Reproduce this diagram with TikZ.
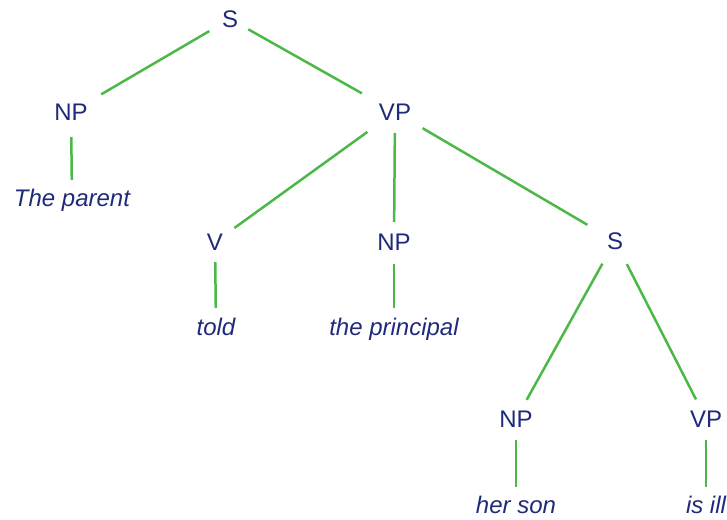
\documentclass[tikz,border=0pt]{standalone}
\usepackage{fontspec}
\setmainfont{Liberation Sans}
\definecolor{txt}{HTML}{1F2A7A}
\definecolor{edge}{HTML}{4CB848}
\begin{document}
\begin{tikzpicture}[x=1pt,y=-1pt,
  cat/.style={inner sep=0pt,text=txt,font=\fontsize{24}{28}\selectfont,text height=17pt,text depth=0pt},
  word/.style={inner sep=0pt,text=txt,font=\fontsize{24}{28}\selectfont\itshape,text height=17pt,text depth=0pt},
  br/.style={draw=edge,line width=2.5pt}]
\useasboundingbox (0,0) rectangle (727,519);
\node[cat] (s) at (230,19) {S};
\node[cat] (np1) at (71,112) {NP};
\node[word] (w1) at (72,198) {The parent};
\node[cat] (vp1) at (395,112) {VP};
\node[cat] (v) at (215,242) {V};
\node[word] (w2) at (216,327) {told};
\node[cat] (np2) at (394,242) {NP};
\node[word] (w3) at (394,327) {the principal};
\node[cat] (s2) at (615,241) {S};
\node[cat] (np3) at (516,419) {NP};
\node[word] (w4) at (516,505) {her son};
\node[cat] (vp2) at (706,419) {VP};
\node[word] (w5) at (706,505) {is ill};
\draw[br,shorten <=24pt,shorten >=35pt] (s.center) -- (np1.center);
\draw[br,shorten <=21pt,shorten >=38pt] (s.center) -- (vp1.center);
\draw[br,shorten <=25pt,shorten >=18pt] (np1.center) -- (w1.center);
\draw[br,shorten <=34pt,shorten >=24pt] (vp1.center) -- (v.center);
\draw[br,shorten <=21pt,shorten >=20pt] (vp1.center) -- (np2.center);
\draw[br,shorten <=32pt,shorten >=32pt] (vp1.center) -- (s2.center);
\draw[br,shorten <=20pt,shorten >=19pt] (v.center) -- (w2.center);
\draw[br,shorten <=22pt,shorten >=19pt] (np2.center) -- (w3.center);
\draw[br,shorten <=26pt,shorten >=22pt] (s2.center) -- (np3.center);
\draw[br,shorten <=26pt,shorten >=22pt] (s2.center) -- (vp2.center);
\draw[br,shorten <=21pt,shorten >=18pt] (np3.center) -- (w4.center);
\draw[br,shorten <=21pt,shorten >=18pt] (vp2.center) -- (w5.center);
\end{tikzpicture}
\end{document}
